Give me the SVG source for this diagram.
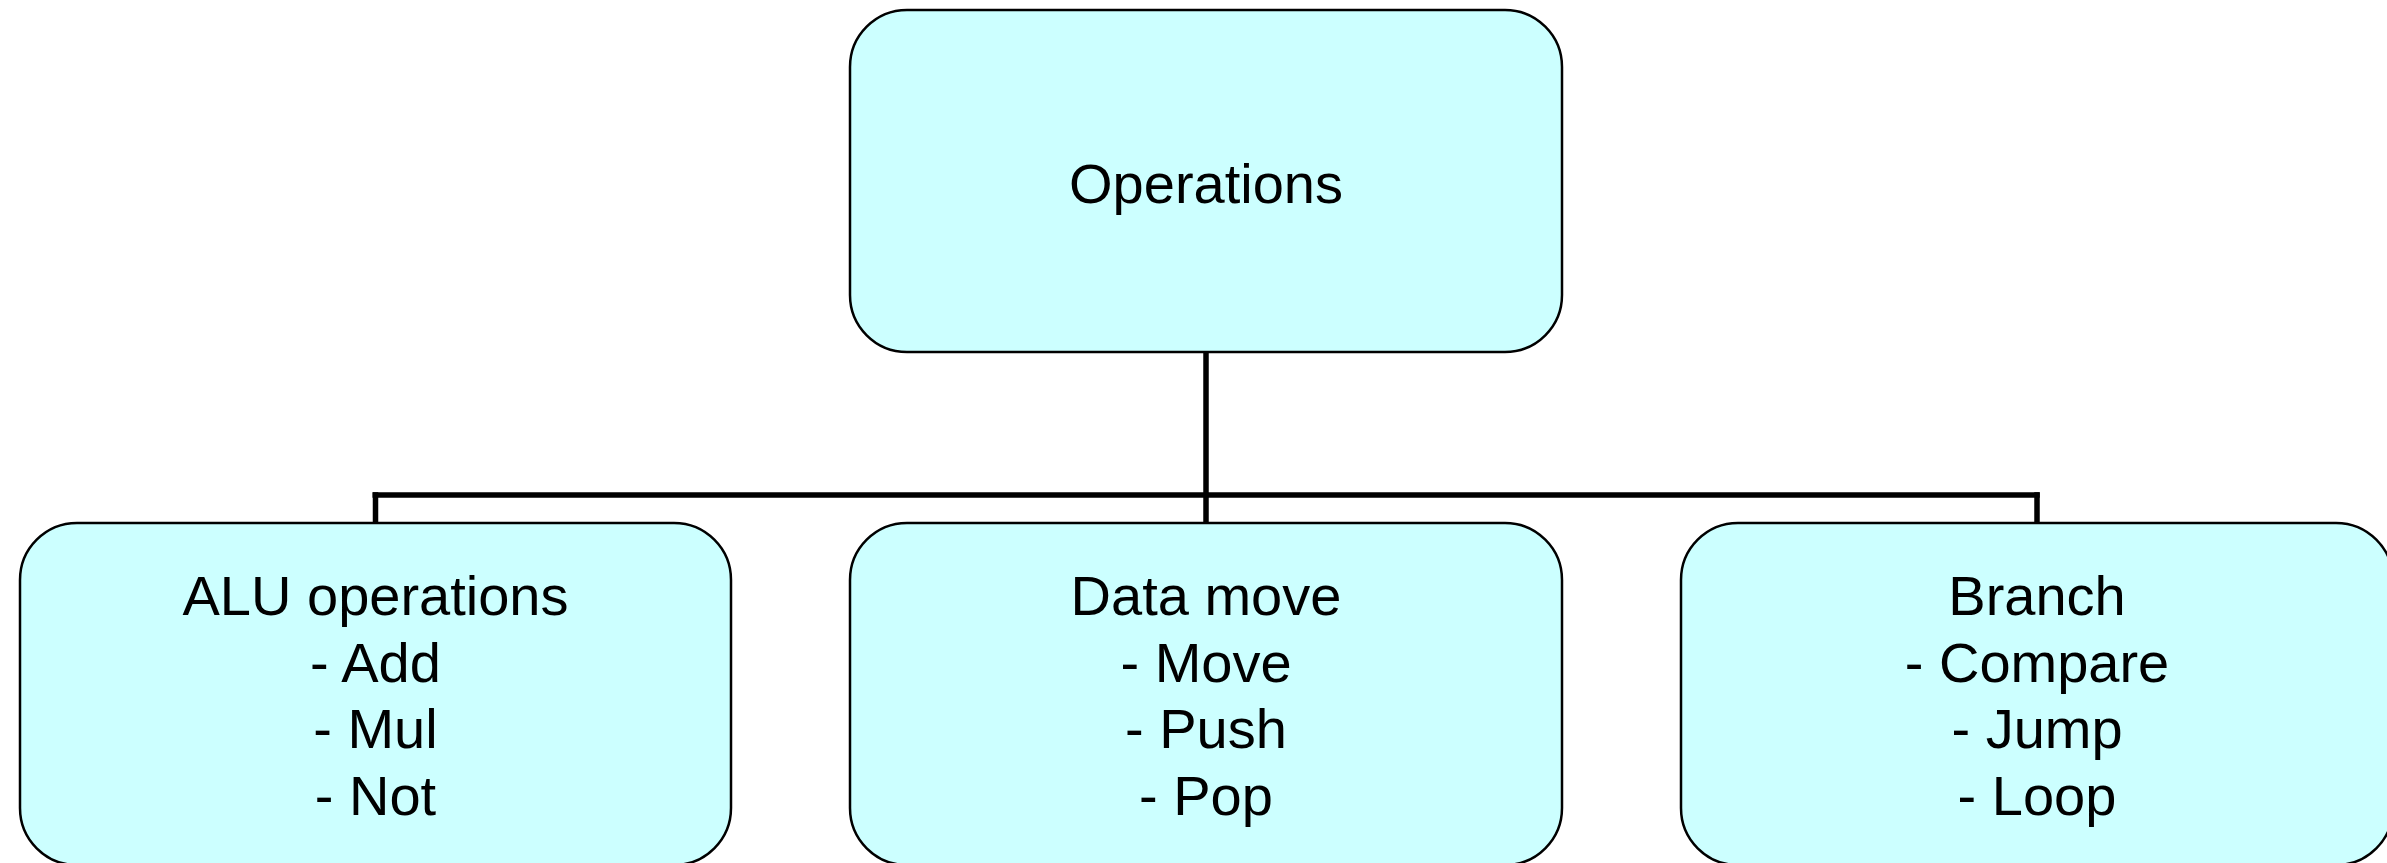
<svg xmlns="http://www.w3.org/2000/svg" width="2387" height="863" viewBox="0 0 2387 863">
  <style>
    .box { fill: #CCFFFF; stroke: #000000; stroke-width: 2.5; }
    .label { font-family: "Liberation Sans", Arial, sans-serif; font-size: 56px; fill: #000000; text-anchor: middle; }
    .wire { fill: none; stroke: #000000; stroke-width: 5.5; stroke-linecap: butt; }
  </style>
  <rect width="2387" height="863" fill="#FFFFFF"/>

  <!-- tree connectors -->
  <g id="connectors">
    <line class="wire" x1="1206" y1="352" x2="1206" y2="523"/>
    <line class="wire" x1="372.5" y1="495" x2="2039.7" y2="495"/>
    <line class="wire" x1="375.5" y1="492.2" x2="375.5" y2="523"/>
    <line class="wire" x1="2037" y1="492.2" x2="2037" y2="523"/>
  </g>

  <g id="operations">
    <rect class="box" x="850" y="10" width="712" height="342" rx="57" ry="57"/>
    <text class="label" x="1206" y="203">Operations</text>
  </g>

  <g id="alu-operations">
    <rect class="box" x="20" y="523" width="711" height="342" rx="57" ry="57"/>
    <text class="label" x="375.5" y="615">ALU operations</text>
    <text class="label" x="375.5" y="681.5">- Add</text>
    <text class="label" x="375.5" y="748">- Mul</text>
    <text class="label" x="375.5" y="814.5">- Not</text>
  </g>

  <g id="data-move">
    <rect class="box" x="850" y="523" width="712" height="342" rx="57" ry="57"/>
    <text class="label" x="1206" y="615">Data move</text>
    <text class="label" x="1206" y="681.5">- Move</text>
    <text class="label" x="1206" y="748">- Push</text>
    <text class="label" x="1206" y="814.5">- Pop</text>
  </g>

  <g id="branch">
    <rect class="box" x="1681" y="523" width="712" height="342" rx="57" ry="57"/>
    <text class="label" x="2037" y="615">Branch</text>
    <text class="label" x="2037" y="681.5">- Compare</text>
    <text class="label" x="2037" y="748">- Jump</text>
    <text class="label" x="2037" y="814.5">- Loop</text>
  </g>
</svg>
